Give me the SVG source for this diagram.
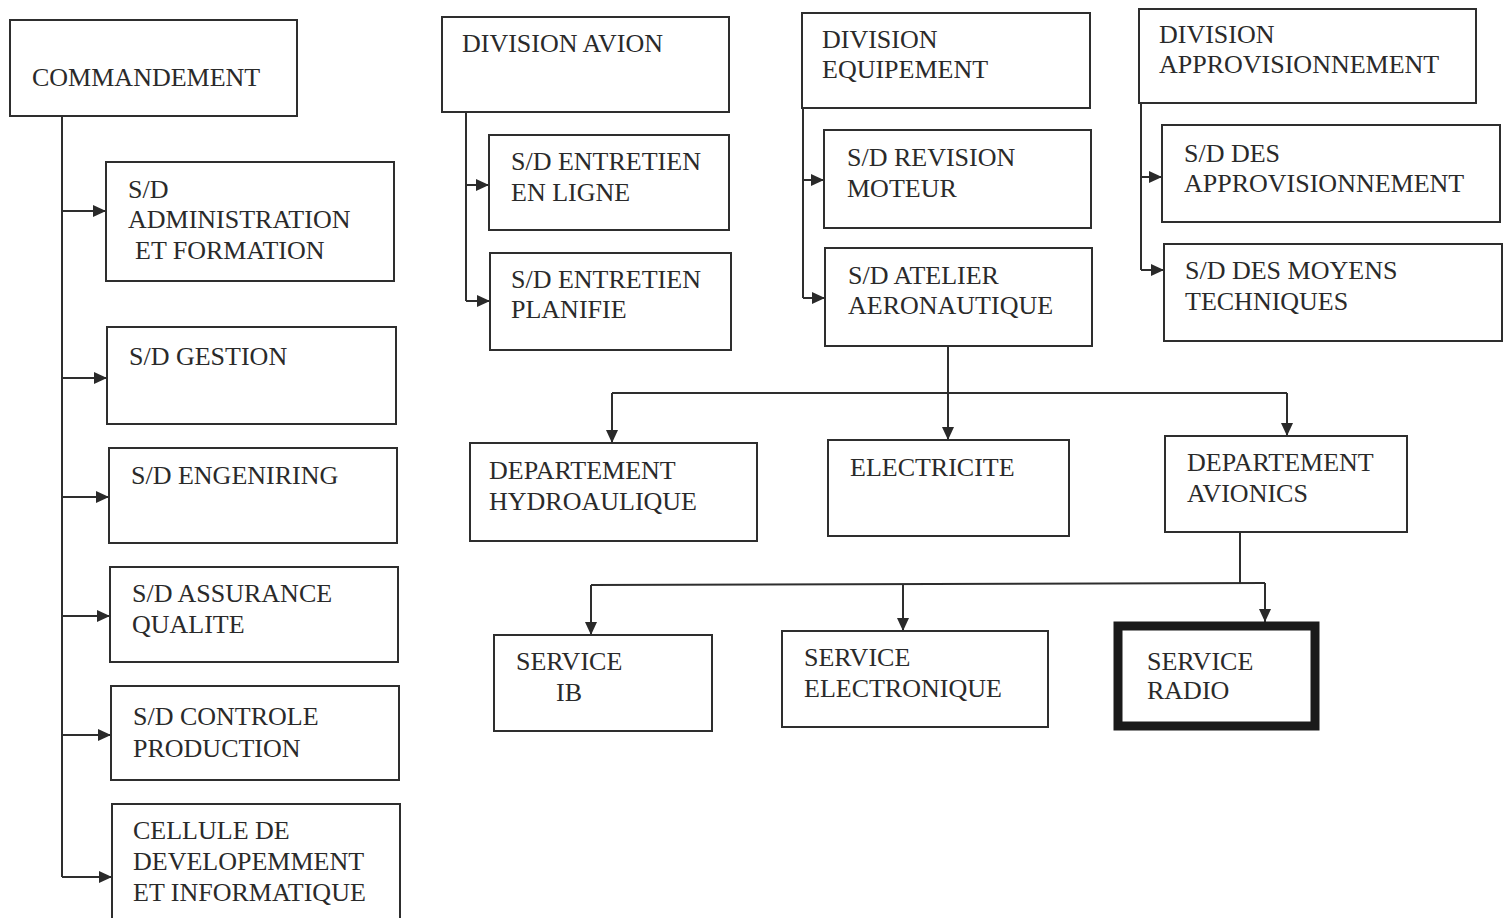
<svg xmlns="http://www.w3.org/2000/svg" width="1510" height="918" viewBox="0 0 1510 918">
<defs>
<marker id="ah" viewBox="0 0 13 12" refX="13" refY="6" markerWidth="13" markerHeight="12" markerUnits="userSpaceOnUse" orient="auto">
<path d="M0,0 L13,6 L0,12 z" fill="#2a2a2a"/>
</marker>
<style>
rect.b{fill:#fff;stroke:#2e2e2e;stroke-width:2}
rect.thick{fill:#fff;stroke:#1a1a1a;stroke-width:9}
text{font-family:"Liberation Serif","Times New Roman",serif;font-size:26px;fill:#2a2a2a}
.c line,.c polyline{stroke:#2e2e2e;stroke-width:2;fill:none}
.c .a{marker-end:url(#ah)}
</style>
</defs>
<rect width="1510" height="918" fill="#fff"/>

<g class="c" id="connectors">
<line x1="62" y1="116" x2="62" y2="877"/>
<line class="a" x1="62" y1="211" x2="106" y2="211"/>
<line class="a" x1="62" y1="378" x2="107" y2="378"/>
<line class="a" x1="62" y1="497" x2="109" y2="497"/>
<line class="a" x1="62" y1="616" x2="110" y2="616"/>
<line class="a" x1="62" y1="735" x2="111" y2="735"/>
<line class="a" x1="62" y1="877" x2="112" y2="877"/>

<line x1="466" y1="112" x2="466" y2="301"/>
<line class="a" x1="466" y1="185" x2="489" y2="185"/>
<line class="a" x1="466" y1="301" x2="490" y2="301"/>

<line x1="803" y1="108" x2="803" y2="298"/>
<line class="a" x1="803" y1="180" x2="824" y2="180"/>
<line class="a" x1="803" y1="298" x2="825" y2="298"/>

<line x1="1141" y1="103" x2="1141" y2="270"/>
<line class="a" x1="1141" y1="177" x2="1162" y2="177"/>
<line class="a" x1="1141" y1="270" x2="1164" y2="270"/>

<line class="a" x1="948" y1="346" x2="948" y2="440"/>
<line x1="612" y1="393" x2="1287" y2="393"/>
<line class="a" x1="612" y1="393" x2="612" y2="443"/>
<line class="a" x1="1287" y1="393" x2="1287" y2="436"/>

<line x1="1240" y1="532" x2="1240" y2="583"/>
<line x1="591" y1="585" x2="1265" y2="583"/>
<line class="a" x1="591" y1="585" x2="591" y2="635"/>
<line class="a" x1="903" y1="584" x2="903" y2="631"/>
<line class="a" x1="1265" y1="583" x2="1265" y2="622"/>
</g>

<g id="commandement"><rect class="b" x="10" y="20" width="287" height="96"/><text x="32" y="86">COMMANDEMENT</text></g>
<g id="sd-admin"><rect class="b" x="106" y="162" width="288" height="119"/><text x="128" y="198">S/D</text><text x="128" y="228">ADMINISTRATION</text><text x="135" y="259">ET FORMATION</text></g>
<g id="sd-gestion"><rect class="b" x="107" y="327" width="289" height="97"/><text x="129" y="365">S/D GESTION</text></g>
<g id="sd-engeniring"><rect class="b" x="109" y="448" width="288" height="95"/><text x="131" y="484">S/D ENGENIRING</text></g>
<g id="sd-assurance"><rect class="b" x="110" y="567" width="288" height="95"/><text x="132" y="602">S/D ASSURANCE</text><text x="132" y="633">QUALITE</text></g>
<g id="sd-controle"><rect class="b" x="111" y="686" width="288" height="94"/><text x="133" y="725">S/D CONTROLE</text><text x="133" y="757">PRODUCTION</text></g>
<g id="cellule"><rect class="b" x="112" y="804" width="288" height="120"/><text x="133" y="839">CELLULE DE</text><text x="133" y="870">DEVELOPEMMENT</text><text x="133" y="901">ET INFORMATIQUE</text></g>

<g id="division-avion"><rect class="b" x="442" y="17" width="287" height="95"/><text x="462" y="52">DIVISION AVION</text></g>
<g id="sd-entretien-ligne"><rect class="b" x="489" y="135" width="240" height="95"/><text x="511" y="170">S/D ENTRETIEN</text><text x="511" y="201">EN LIGNE</text></g>
<g id="sd-entretien-planifie"><rect class="b" x="490" y="253" width="241" height="97"/><text x="511" y="288">S/D ENTRETIEN</text><text x="511" y="318">PLANIFIE</text></g>

<g id="division-equipement"><rect class="b" x="802" y="13" width="288" height="95"/><text x="822" y="48">DIVISION</text><text x="822" y="78">EQUIPEMENT</text></g>
<g id="sd-revision"><rect class="b" x="824" y="130" width="267" height="98"/><text x="847" y="166">S/D REVISION</text><text x="847" y="197">MOTEUR</text></g>
<g id="sd-atelier"><rect class="b" x="825" y="248" width="267" height="98"/><text x="848" y="284">S/D ATELIER</text><text x="848" y="314">AERONAUTIQUE</text></g>

<g id="division-appro"><rect class="b" x="1139" y="9" width="337" height="94"/><text x="1159" y="43">DIVISION</text><text x="1159" y="73">APPROVISIONNEMENT</text></g>
<g id="sd-appro"><rect class="b" x="1162" y="125" width="338" height="97"/><text x="1184" y="162">S/D DES</text><text x="1184" y="192">APPROVISIONNEMENT</text></g>
<g id="sd-moyens"><rect class="b" x="1164" y="244" width="338" height="97"/><text x="1185" y="279">S/D DES MOYENS</text><text x="1185" y="310">TECHNIQUES</text></g>

<g id="dep-hydro"><rect class="b" x="470" y="443" width="287" height="98"/><text x="489" y="479">DEPARTEMENT</text><text x="489" y="510">HYDROAULIQUE</text></g>
<g id="electricite"><rect class="b" x="828" y="440" width="241" height="96"/><text x="850" y="476">ELECTRICITE</text></g>
<g id="dep-avionics"><rect class="b" x="1165" y="436" width="242" height="96"/><text x="1187" y="471">DEPARTEMENT</text><text x="1187" y="502">AVIONICS</text></g>

<g id="service-ib"><rect class="b" x="494" y="635" width="218" height="96"/><text x="516" y="670">SERVICE</text><text x="556" y="701">IB</text></g>
<g id="service-electronique"><rect class="b" x="782" y="631" width="266" height="96"/><text x="804" y="666">SERVICE</text><text x="804" y="697">ELECTRONIQUE</text></g>
<g id="service-radio"><rect class="thick" x="1118" y="626" width="197" height="100"/><text x="1147" y="670">SERVICE</text><text x="1147" y="699">RADIO</text></g>
</svg>
